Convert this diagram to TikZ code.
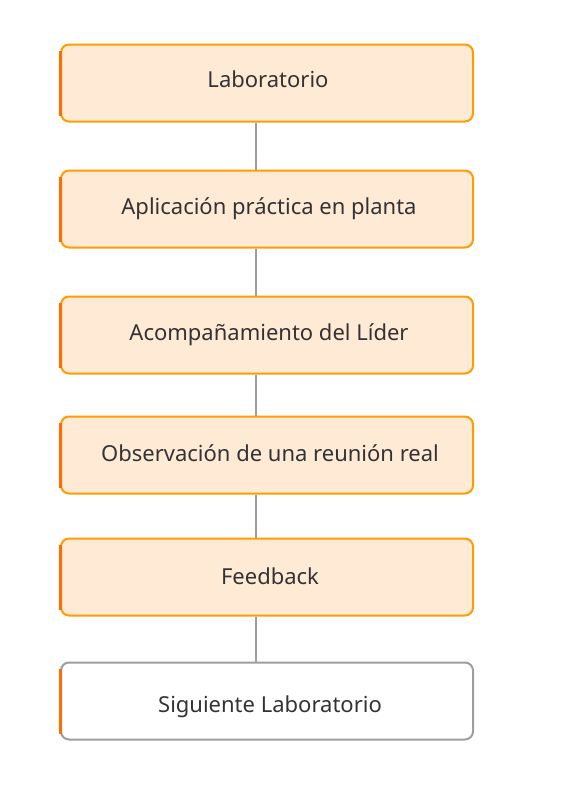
\documentclass[tikz,border=0pt]{standalone}
\usepackage{fontspec}
\setmainfont{Noto Sans}
\definecolor{boxfill}{HTML}{FFEAD6}
\definecolor{boxline}{HTML}{FF9D00}
\definecolor{stripe}{HTML}{FF6D00}
\definecolor{conn}{HTML}{9E9E9E}
\definecolor{txt}{HTML}{333333}
\tikzset{
  stepbox/.style={draw=boxline, fill=boxfill, line width=2pt, rounded corners=8pt,
    minimum width=412pt, minimum height=77pt, inner sep=0pt, anchor=north west},
  lastbox/.style={stepbox, draw=conn, fill=white},
  steptext/.style={font=\fontsize{22pt}{27pt}\selectfont, text=txt, anchor=base, inner sep=0pt},
  accent/.style={draw=stripe, line width=3pt},
  link/.style={draw=conn, line width=1.6pt}
}
\begin{document}
\begin{tikzpicture}[x=1pt,y=-1pt]
\useasboundingbox (0,0) rectangle (572,798);
\node[stepbox] (b1) at (60,43.5) {};
\node[stepbox] (b2) at (60,169.5) {};
\node[stepbox] (b3) at (60,295.5) {};
\node[stepbox] (b4) at (60,415.5) {};
\node[stepbox] (b5) at (60,537.5) {};
\node[lastbox] (b6) at (60,661.5) {};
\foreach \n in {b1,b2,b3,b4,b5,b6}{
  \draw[accent] ([xshift=0.5pt,yshift=-7pt]\n.north west) -- ([xshift=0.5pt,yshift=7pt]\n.south west);
}
\draw[link] ([xshift=-11pt]b1.south) -- ([xshift=-11pt]b2.north);
\draw[link] ([xshift=-11pt]b2.south) -- ([xshift=-11pt]b3.north);
\draw[link] ([xshift=-11pt]b3.south) -- ([xshift=-11pt]b4.north);
\draw[link] ([xshift=-11pt]b4.south) -- ([xshift=-11pt]b5.north);
\draw[link] ([xshift=-11pt]b5.south) -- ([xshift=-11pt]b6.north);
\node[steptext] (t1) at ([xshift=1pt,yshift=-44pt]b1.north) {Laboratorio};
\node[steptext] (t2) at ([xshift=2pt,yshift=-45pt]b2.north) {Aplicación práctica en planta};
\node[steptext] (t3) at ([xshift=2pt,yshift=-45pt]b3.north) {Acompañamiento del Líder};
\node[steptext] (t4) at ([xshift=3pt,yshift=-46pt]b4.north) {Observación de una reunión real};
\node[steptext] (t5) at ([xshift=3pt,yshift=-46.7pt]b5.north) {Feedback};
\node[steptext] (t6) at ([xshift=3pt,yshift=-50.5pt]b6.north) {Siguiente Laboratorio};
\end{tikzpicture}
\end{document}
